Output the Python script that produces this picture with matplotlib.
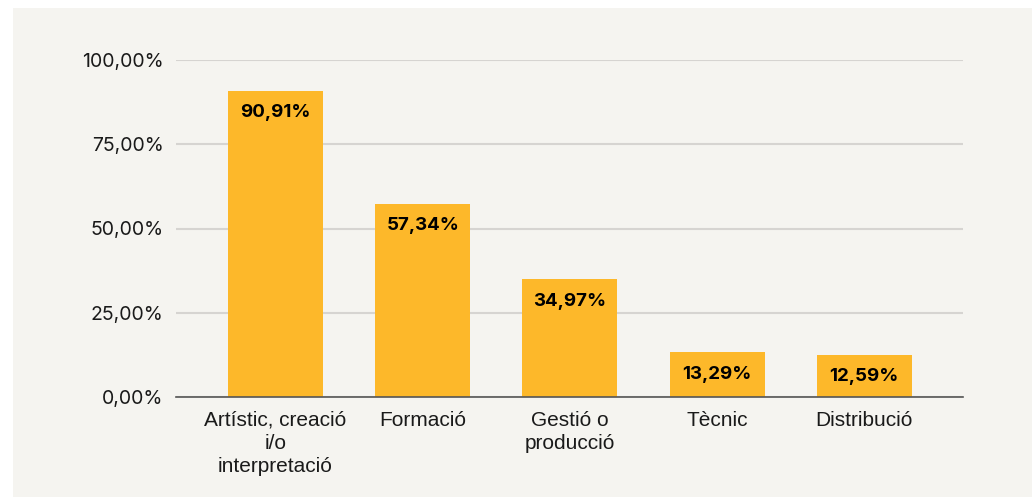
import matplotlib.pyplot as plt
from matplotlib.patches import Rectangle

# Dades
categories = ["Artístic, creació\ni/o\ninterpretació", "Formació", "Gestió o\nproducció", "Tècnic", "Distribució"]
valors = [90.91, 57.34, 34.97, 13.29, 12.59]
yticks = [0, 25, 50, 75, 100]

fig = plt.figure(figsize=(10.32, 4.97), dpi=100)
fig.patch.set_facecolor("white")
# fons beix amb marge blanc a dalt i a l'esquerra
fig.add_artist(Rectangle((13 / 1032, 0), 1, (497 - 8) / 497, transform=fig.transFigure,
                         facecolor="#f5f4f0", edgecolor="none", zorder=-1))

ax = fig.add_axes([176 / 1032, 100 / 497, (963 - 176) / 1032, (397 - 60) / 497])
ax.set_facecolor("none")

x = range(len(categories))
bars = ax.bar(x, valors, width=0.645, color="#fdb82a", zorder=3)

for b, v in zip(bars, valors):
    ax.annotate(f"{v:.2f}%".replace(".", ","), (b.get_x() + b.get_width() / 2, v),
                xytext=(0, -22), textcoords="offset pixels",
                ha="center", va="center", fontsize=13.5, fontweight="bold",
                family=["Inter", "DejaVu Sans"], color="black", zorder=4)

ax.set_xlim(-0.676, 4.67)
ax.set_ylim(0, 100)
ax.set_yticks(yticks)
ax.set_yticklabels([f"{t:.2f}%".replace(".", ",") for t in yticks],
                   family=["Inter", "DejaVu Sans"], fontsize=14, color="#1a1a1a")
ax.set_xticks(list(x))
ax.set_xticklabels(categories, family=["Liberation Sans", "DejaVu Sans"], fontsize=15,
                   color="#1a1a1a", linespacing=1.27)
ax.tick_params(axis="both", length=0)
ax.tick_params(axis="y", pad=9)
ax.tick_params(axis="x", pad=10)

ax.grid(axis="y", color="#d6d4d1", linewidth=1.5, zorder=0)
for s in ["top", "right", "left"]:
    ax.spines[s].set_visible(False)
ax.spines["bottom"].set_color("#555555")
ax.spines["bottom"].set_linewidth(1.2)
ax.spines["bottom"].set_zorder(5)

fig.savefig("out.png", dpi=100)
